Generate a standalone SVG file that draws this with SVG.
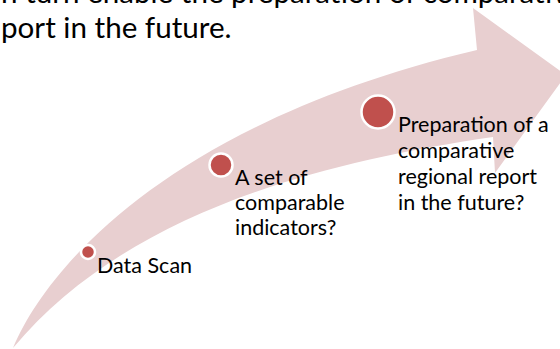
<svg xmlns="http://www.w3.org/2000/svg" width="560" height="349" viewBox="0 0 560 349">
<style>
.t{font-family:Lato,"Open Sans","Liberation Sans",sans-serif;fill:#000}
.lbl{font-size:21.5px}
.top{font-size:29.6px}
.dot{fill:#C0504D;stroke:#fff;stroke-width:2.5}
</style>
<rect width="560" height="349" fill="#fff"/>
<g id="heading">
<text class="t top" x="-6" y="3">in turn enable the preparation of comparative</text>
<text class="t top" x="1" y="38">port in the future.</text>
</g>
<g id="connectors">
<path id="arrow" fill="#E8CFD0" d="M13,348 C50,260 180,120 477,50 L473,8 L566,75 L495,173 L493,137 C300,165 120,220 13,348 Z"/>
</g>
<g id="node-datascan">
<circle class="dot" cx="88" cy="252" r="7"/>
<text class="t lbl" x="97" y="273">Data Scan</text>
</g>
<g id="node-indicators">
<circle class="dot" cx="221" cy="165" r="11.5"/>
<text class="t lbl" x="235" y="185">A set of</text>
<text class="t lbl" x="235" y="210">comparable</text>
<text class="t lbl" x="235" y="235">indicators?</text>
</g>
<g id="node-report">
<circle class="dot" cx="378" cy="112" r="16.5"/>
<text class="t lbl" x="398" y="132">Preparation of a</text>
<text class="t lbl" x="398" y="158">comparative</text>
<text class="t lbl" x="398" y="184">regional report</text>
<text class="t lbl" x="398" y="210">in the future?</text>
</g>
</svg>
